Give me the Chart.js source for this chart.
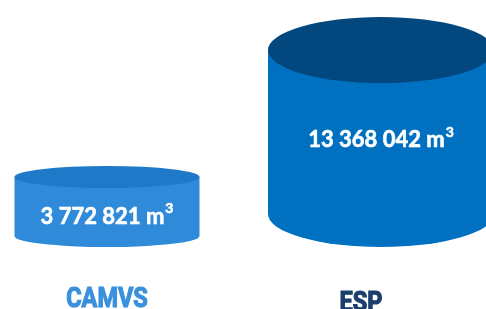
<!DOCTYPE html>
<html>
<head>
<meta charset="utf-8">
<script src="https://cdn.jsdelivr.net/npm/chart.js@4"></script>
<style>
html,body{margin:0;padding:0;background:#fff;overflow:hidden}
</style>
</head>
<body>
<canvas id="volumeChart" width="486" height="309"></canvas>
<script>
// Volumes by site (m3)
const categories = ["CAMVS", "ESP"];
const volumes = [3772821, 13368042];
const unit = "m";
const unitPower = "3";

// look of each cylinder
const sideColors = ["#2f8bd9", "#0070c0"];
const topColors = ["#1f79c9", "#03477f"];
const labelColors = ["#3a90dc", "#1d3f6d"];
const cylWidths = [185, 226];
const cylDepths = [11, 33];
const labelShift = [0, -20];
const textShift = [10, 8];

const valueFont = "bold 22px Lato, 'Open Sans', sans-serif";
const powerFont = "bold 14px Lato, 'Open Sans', sans-serif";
const labelFont = "bold 28px Roboto, 'Liberation Sans', sans-serif";

function groupDigits(v){
  return String(v).replace(/\B(?=(\d{3})+(?!\d))/g, " ");
}

const cylinders = {
  id: "cylinders",
  afterDatasetsDraw(chart){
    const ctx = chart.ctx;
    const bottom = chart.chartArea.bottom;
    chart.getDatasetMeta(0).data.forEach((bar, i) => {
      const cx = bar.x, w = cylWidths[i], rx = w / 2, ry = cylDepths[i];
      const top = bar.y, baseC = bottom - ry;

      ctx.save();
      // side
      ctx.fillStyle = sideColors[i];
      ctx.beginPath();
      ctx.moveTo(cx - rx, top);
      ctx.lineTo(cx - rx, baseC);
      ctx.ellipse(cx, baseC, rx, ry, 0, Math.PI, 0, true);
      ctx.lineTo(cx + rx, top);
      ctx.closePath();
      ctx.fill();
      // lid
      ctx.fillStyle = topColors[i];
      ctx.beginPath();
      ctx.ellipse(cx, top, rx, ry, 0, 0, Math.PI * 2);
      ctx.fill();

      // value text
      const txt = groupDigits(volumes[i]) + " " + unit;
      ctx.font = valueFont;
      const tw = ctx.measureText(txt).width;
      ctx.font = powerFont;
      const sw = ctx.measureText(unitPower).width;
      const ty = (top + baseC) / 2 + textShift[i];
      const x0 = cx - (tw + sw + 1) / 2;
      ctx.fillStyle = "#ffffff";
      ctx.strokeStyle = "#ffffff";
      ctx.lineWidth = 0.6;
      ctx.textBaseline = "middle";
      ctx.textAlign = "left";
      ctx.font = valueFont;
      ctx.fillText(txt, x0, ty);
      ctx.strokeText(txt, x0, ty);
      ctx.font = powerFont;
      ctx.fillText(unitPower, x0 + tw + 1, ty - 8);
      ctx.strokeText(unitPower, x0 + tw + 1, ty - 8);

      // category label (condensed)
      ctx.font = labelFont;
      ctx.fillStyle = labelColors[i];
      ctx.strokeStyle = labelColors[i];
      ctx.lineWidth = 1.2;
      ctx.textAlign = "center";
      ctx.textBaseline = "alphabetic";
      ctx.translate(cx + labelShift[i], 307 + i * 4);
      ctx.scale(0.84, 1);
      ctx.fillText(categories[i], 0, 0);
      ctx.strokeText(categories[i], 0, 0);
      ctx.restore();
    });
  }
};

new Chart(
document.getElementById("volumeChart"),
{
type: "bar",
data: {
  labels: categories,
  datasets: [{
    label: "Volume (m3)",
    data: volumes,
    backgroundColor: "rgba(0,0,0,0)"
  }]
},
options: {
  responsive: false,
  animation: false,
  layout: { padding: { left: 107, right: 105, top: 0, bottom: 62 } },
  plugins: { legend: { display: false }, tooltip: { enabled: false } },
  scales: {
    x: { display: false, offset: false },
    y: { display: false, min: -1516000, max: 17150000 }
  }
},
plugins: [cylinders]
}
);
</script>
</body>
</html>
